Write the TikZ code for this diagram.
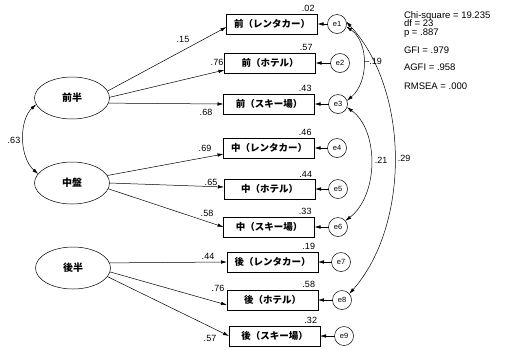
\documentclass[tikz,border=0pt]{standalone}
\usepackage{fontspec}
\setmainfont{Liberation Sans}
\newfontfamily\jfont{Noto Sans CJK JP}
\usetikzlibrary{arrows.meta,shapes.geometric}
\begin{document}
\begin{tikzpicture}[x=1pt,y=-1pt,
  every node/.style={inner sep=0pt, outer sep=0pt},
  obs/.style={draw, line width=0.5pt, minimum width=91pt, minimum height=20pt, font=\jfont\bfseries\fontsize{9.5}{10}\selectfont},
  lat/.style={draw, line width=0.5pt, ellipse, minimum width=75pt, minimum height=42pt, font=\jfont\bfseries\fontsize{10}{11}\selectfont},
  err/.style={draw, line width=0.5pt, circle, minimum size=19pt, font=\fontsize{7.5}{8}\selectfont},
  lbl/.style={font=\fontsize{9}{10}\selectfont},
  stat/.style={anchor=west, text height=6.3pt, text depth=1.4pt, font=\fontsize{9.5}{10}\selectfont},
  arr/.style={-{Latex[length=6pt,width=3.5pt]}, line width=0.5pt},
  darr/.style={{Latex[length=6pt,width=3.5pt]}-{Latex[length=6pt,width=3.5pt]}, line width=0.5pt}
]
\useasboundingbox (0,0) rectangle (510,349);

% latent variables
\node[lat] (a1) at (72,98) {前半};
\node[lat] (a2) at (72,183) {中盤};
\node[lat] (a3) at (73,268) {後半};

% observed variables
\node[obs] (b1) at (272,24) {前（レンタカー）};
\node[obs] (b2) at (270,63) {前（ホテル）};
\node[obs] (b3) at (269,104) {前（スキー場）};
\node[obs] (b4) at (269,148) {中（レンタカー）};
\node[obs] (b5) at (269.5,189) {中（ホテル）};
\node[obs] (b6) at (269,227) {中（スキー場）};
\node[obs] (b7) at (272.5,262) {後（レンタカー）};
\node[obs] (b8) at (272.5,300) {後（ホテル）};
\node[obs] (b9) at (274.5,336) {後（スキー場）};

% errors
\node[err] (e1) at (337,24) {e1};
\node[err] (e2) at (340,63) {e2};
\node[err] (e3) at (338,104) {e3};
\node[err] (e4) at (337,148) {e4};
\node[err] (e5) at (338,189) {e5};
\node[err] (e6) at (338,227) {e6};
\node[err] (e7) at (341,262) {e7};
\node[err] (e8) at (342,300) {e8};
\node[err] (e9) at (344,336) {e9};

% error arrows
\foreach \i in {1,...,9} { \draw[arr] (e\i) -- (b\i); }

% loadings
\draw[arr] (a1.11) -- ([yshift=-3pt]b1.west);
\draw[arr] (a1.1) -- ([yshift=-7pt]b2.west);
\draw[arr] (a1.-8) -- (b3.west);
\draw[arr] (a2.12) -- ([yshift=-6pt]b4.west);
\draw[arr] (a2.0) -- ([yshift=2pt]b5.west);
\draw[arr] (a2.-9) -- (b6.west);
\draw[arr] (a3.8) -- (b7.west);
\draw[arr] (a3.-6) -- ([yshift=-5pt]b8.west);
\draw[arr] (a3.-14) -- (b9.west);

% loading labels
\node[lbl] (l1) at (183,39) {.15};
\node[lbl] (l2) at (217,62) {.76};
\node[lbl] (l3) at (206,112) {.68};
\node[lbl] (l4) at (205,148) {.69};
\node[lbl] (l5) at (211,182) {.65};
\node[lbl] (l6) at (207,213) {.58};
\node[lbl] (l7) at (208,256) {.44};
\node[lbl] (l8) at (218,288) {.76};
\node[lbl] (l9) at (210,338) {.57};

% R squared
\foreach \i/\v in {1/.02,2/.57,3/.43,4/.46,5/.44,6/.33,7/.19,8/.58,9/.32} {
  \node[lbl, anchor=south east] (r\i) at ([xshift=-3pt,yshift=2pt]b\i.north east) {\v};
}

% latent correlation
\draw[darr] (a1.190) .. controls (19,120) and (19,157) .. (a2.165);
\node[lbl] (c0) at (14,140) {.63};

% error covariances
\draw[darr] (e1.-15) .. controls (369,42) and (369,82) .. (e3.20);
\node[lbl] (c1) at (373,61) {–.19};
\draw[darr] (e3.-20) .. controls (379,130) and (379,195) .. (e6.40);
\node[lbl] (c2) at (381,160) {.21};
\draw[darr] (e1.15) .. controls (410,90) and (410,225) .. (e8.40);
\node[lbl] (c3) at (404,158) {.29};

% fit statistics
\node[stat] (s1) at (404,16) {Chi-square = 19.235};
\node[stat] (s2) at (404,24.5) {df = 23};
\node[stat] (s3) at (404,33) {p = .887};
\node[stat] (s4) at (404,51) {GFI = .979};
\node[stat] (s5) at (404,68.5) {AGFI = .958};
\node[stat] (s6) at (404,87) {RMSEA = .000};
\end{tikzpicture}
\end{document}
